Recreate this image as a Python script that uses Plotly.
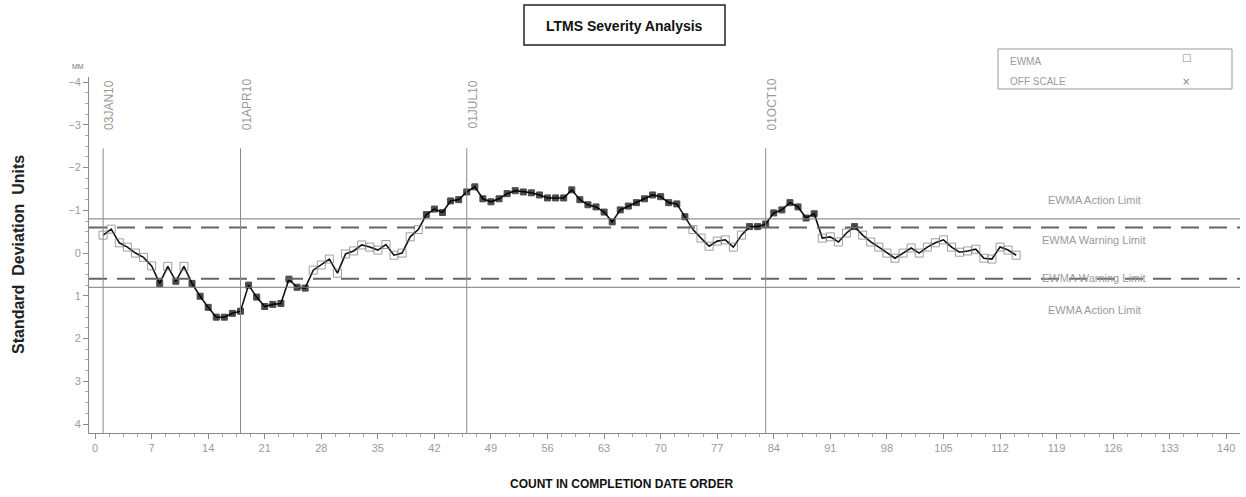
import plotly.graph_objects as go

# ---- data ----
counts = list(range(1, 115))
ewma = [-0.42, -0.56, -0.24, -0.14, 0.0, 0.1, 0.3, 0.71, 0.31, 0.66,
        0.31, 0.71, 1.01, 1.27, 1.5, 1.5, 1.41, 1.36, 0.75, 1.03,
        1.25, 1.2, 1.18, 0.61, 0.8, 0.82, 0.4, 0.28, 0.14, 0.47,
        0.02, -0.05, -0.19, -0.14, -0.07, -0.2, 0.05, 0.0, -0.38, -0.55,
        -0.9, -1.03, -0.95, -1.22, -1.25, -1.43, -1.55, -1.27, -1.2, -1.27,
        -1.39, -1.46, -1.43, -1.41, -1.36, -1.29, -1.29, -1.29, -1.48, -1.25,
        -1.13, -1.08, -0.96, -0.73, -1.01, -1.1, -1.18, -1.27, -1.36, -1.32,
        -1.18, -1.15, -0.85, -0.55, -0.35, -0.16, -0.28, -0.31, -0.14, -0.42,
        -0.62, -0.62, -0.68, -0.94, -1.01, -1.18, -1.08, -0.82, -0.92, -0.35,
        -0.38, -0.26, -0.47, -0.62, -0.42, -0.26, -0.14, 0.0, 0.12, 0.0,
        -0.12, 0.0, -0.14, -0.24, -0.31, -0.14, -0.02, -0.05, -0.09, 0.12,
        0.14, -0.14, -0.07, 0.05]
action_limit = 0.8
warning_limit = 0.6
event_counts = [1, 18, 46, 83]
event_labels = ["03JAN10", "01APR10", "01JUL10", "01OCT10"]
x_ticks = list(range(0, 141, 7))
y_ticks = [-4, -3, -2, -1, 0, 1, 2, 3, 4]

# ---- figure ----
X0, X1 = -0.75, 141.7
Y_BOTTOM, Y_TOP = 4.21, -4.12
GRAY = "#8a8a8a"
LIGHT = "#9a9a9a"
NARROW = "Liberation Sans Narrow, Liberation Sans, Arial"

fig = go.Figure()

off = [abs(v) >= warning_limit for v in ewma]
fig.add_trace(go.Scatter(
    x=counts, y=ewma, mode="lines+markers",
    line=dict(color="#111111", width=1.6),
    marker=dict(
        symbol=["square" if o else "square-open" for o in off],
        color=["#000000" if o else "#777777" for o in off],
        size=[6 if o else 8 for o in off],
        line=dict(width=1, color=["#000000" if o else "#777777" for o in off]),
    ),
    showlegend=False, hoverinfo="skip",
))

shapes = []
# limit lines
for s in (-1, 1):
    shapes.append(dict(type="line", xref="x", yref="y", x0=X0, x1=X1,
                       y0=s * action_limit, y1=s * action_limit,
                       line=dict(color="#777777", width=1)))
    shapes.append(dict(type="line", xref="x", yref="y", x0=X0, x1=X1,
                       y0=s * warning_limit, y1=s * warning_limit,
                       line=dict(color="#666666", width=2, dash="18px,10px")))
# event lines
for c in event_counts:
    shapes.append(dict(type="line", xref="x", yref="y", x0=c, x1=c,
                       y0=-2.45, y1=Y_BOTTOM,
                       line=dict(color="#888888", width=1)))


def px_to_paper(px, py):
    return (px - 89) / (1240 - 89), (433 - py) / (433 - 77)


# title box and legend box (paper coords)
tx0, ty0 = px_to_paper(524, 5)
tx1, ty1 = px_to_paper(725, 45)
shapes.append(dict(type="rect", xref="paper", yref="paper", x0=tx0, x1=tx1,
                   y0=ty1, y1=ty0, line=dict(color="#222222", width=1.5)))
lx0, ly0 = px_to_paper(998, 49)
lx1, ly1 = px_to_paper(1232, 89)
shapes.append(dict(type="rect", xref="paper", yref="paper", x0=lx0, x1=lx1,
                   y0=ly1, y1=ly0, line=dict(color="#999999", width=1)))

annotations = []


def note(px, py, text, font, xanchor="center", angle=0):
    ax_, ay_ = px_to_paper(px, py)
    annotations.append(dict(xref="paper", yref="paper", x=ax_, y=ay_, showarrow=False,
                            xanchor=xanchor, yanchor="middle", text=text,
                            textangle=angle, font=font))


note(624, 26, "<b>LTMS Severity Analysis</b>", dict(family=NARROW, size=14, color="#111111"))
for txt, py, mk, my in [("EWMA", 62, "□", 58), ("OFF SCALE", 81, "×", 81)]:
    note(1008, py, txt, dict(family=NARROW, size=10, color=LIGHT), xanchor="left")
    note(1186, my, mk, dict(family="DejaVu Sans", size=10, color="#888888"))

# limit labels
for txt, py in [("EWMA Action Limit", 200), ("EWMA Warning Limit", 240),
                ("EWMA Warning Limit", 278), ("EWMA Action Limit", 310)]:
    note(1094, py, txt, dict(family=NARROW, size=11, color=LIGHT))

# event labels
for c, lab in zip(event_counts, event_labels):
    annotations.append(dict(xref="x", yref="y", x=c, y=-3.47, xshift=6, showarrow=False,
                            xanchor="center", yanchor="middle",
                            text=lab, textangle=-90,
                            font=dict(family="Liberation Sans", size=12, color="#999999")))

# small label on top of y-axis
note(78, 66, "MM", dict(family=NARROW, size=7, color="#777777"))

# axis titles
note(621, 484, "<b>COUNT IN COMPLETION DATE ORDER</b>", dict(family=NARROW, size=12, color="#111111"))
note(18, 255, "<b>Standard  Deviation  Units</b>", dict(family="Liberation Sans", size=16, color="#222222"),
     angle=-90)

fig.update_layout(
    width=1246, height=497,
    margin=dict(l=89, r=6, t=77, b=64),
    paper_bgcolor="white", plot_bgcolor="white",
    shapes=shapes, annotations=annotations,
    showlegend=False,
    xaxis=dict(range=[X0, X1], tickvals=x_ticks, ticktext=[str(t) for t in x_ticks],
               showgrid=False, zeroline=False, showline=True, linecolor=GRAY, linewidth=1,
               ticks="outside", ticklen=5, tickcolor=GRAY,
               minor=dict(dtick=1.75, ticks="outside", ticklen=3, tickcolor="#aaaaaa", tick0=0),
               tickfont=dict(family=NARROW, size=11, color=LIGHT),
               ),
    yaxis=dict(range=[Y_BOTTOM, Y_TOP], tickvals=y_ticks,
               showgrid=False, zeroline=False, showline=True, linecolor=GRAY, linewidth=1,
               ticks="outside", ticklen=5, tickcolor=GRAY,
               minor=dict(dtick=0.25, ticks="outside", ticklen=3, tickcolor="#aaaaaa", tick0=0),
               tickfont=dict(family=NARROW, size=11, color=LIGHT),
               ),
)

fig.write_html("out.html")
